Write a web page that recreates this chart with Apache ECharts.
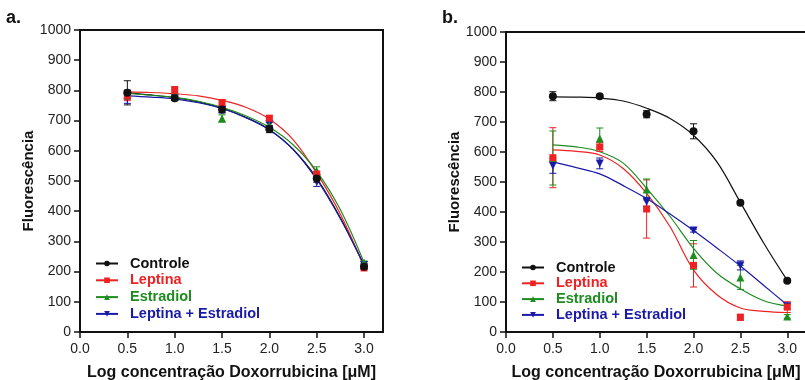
<!DOCTYPE html>
<html>
<head>
<meta charset="utf-8">
<script src="https://cdn.jsdelivr.net/npm/echarts@6/dist/echarts.min.js"></script>
<style>
html,body{margin:0;padding:0;background:#fff;}
#wrap{position:relative;width:805px;height:380px;overflow:hidden;background:#fff;}
#ca{position:absolute;left:0;top:0;width:400px;height:380px;}
#cb{position:absolute;left:400px;top:0;width:405px;height:380px;}
</style>
</head>
<body>
<div id="wrap"><div id="ca"></div><div id="cb"></div></div>
<script>
// ---------- data ----------
const groupNames = ['Controle', 'Leptina', 'Estradiol', 'Leptina + Estradiol'];
const groupColors = ['#111111', '#ee2222', '#1e8c1e', '#1a1aaa'];
const xTicks = [0, 0.5, 1.0, 1.5, 2.0, 2.5, 3.0];
const xPts = [0.5, 1.0, 1.5, 2.0, 2.5, 3.0];
const curveX = [0.5, 0.75, 1.0, 1.25, 1.5, 1.75, 2.0, 2.25, 2.5, 2.75, 3.0];

// panel a : measured points (mean, error)
const aControle = [792, 774, 737, 672, 508, 216];
const aControleErr = [40, 8, 10, 12, 12, 6];
const aLeptina = [781, 801, 760, 708, 523, 212];
const aLeptinaErr = [15, 12, 10, 8, 8, 5];
const aEstradiol = [785, 778, 707, 683, 533, 230];
const aEstradiolErr = [15, 8, 12, 10, 14, 5];
const aLepEst = [779, 773, 735, 688, 497, 222];
const aLepEstErr = [22, 6, 10, 8, 15, 5];
// panel a : fitted curves (read at curveX)
const aControleFit = [792, 785, 776, 762, 741, 711, 670, 605, 509, 378, 220];
const aLeptinaFit = [795, 793, 789, 782, 767, 744, 705, 637, 526, 390, 216];
const aEstradiolFit = [790, 784, 777, 764, 744, 716, 678, 620, 532, 405, 230];
const aLepEstFit = [782, 778, 772, 759, 740, 710, 670, 605, 505, 375, 222];

// panel b : measured points (mean, error)
const bControle = [786, 786, 726, 669, 431, 171];
const bControleErr = [15, 5, 12, 25, 5, 5];
const bLeptina = [581, 617, 410, 222, 49, 83];
const bLeptinaErr = [100, 15, 97, 72, 10, 18];
const bEstradiol = [580, 645, 475, 257, 182, 52];
const bEstradiolErr = [90, 35, 35, 48, 40, 6];
const bLepEst = [554, 562, 434, 338, 222, 86];
const bLepEstErr = [25, 18, 15, 5, 15, 8];
// panel b : fitted curves (read at curveX)
const bControleFit = [784, 783, 780, 770, 746, 712, 656, 567, 432, 296, 172];
const bLeptinaFit = [607, 602, 590, 545, 462, 351, 207, 124, 80, 69, 65];
const bEstradiolFit = [624, 617, 601, 563, 479, 385, 279, 196, 144, 104, 86];
const bLepEstFit = [567, 548, 527, 488, 445, 393, 338, 280, 220, 155, 90];

// ---------- helpers ----------
const FONT = 'Liberation Sans, Arial, Helvetica, sans-serif';
const symbols = ['circle', 'rect', 'triangle', 'triangle'];
const rotates = [0, 0, 0, 180];
const symSizes = [8, 7, 8, 8];

function pairs(xs, ys) { return xs.map((x, i) => [x, ys[i]]); }

function buildOption(cfg) {
  const series = [];
  cfg.fits.forEach((fit, g) => {
    series.push({
      name: groupNames[g], type: 'line', data: pairs(curveX, fit),
      smooth: 0.35, showSymbol: false, symbol: symbols[g], symbolRotate: rotates[g],
      lineStyle: { color: groupColors[g], width: 1.2 }, itemStyle: { color: groupColors[g] },
      z: 2, silent: true, animation: false
    });
  });
  cfg.pts.forEach((pts, g) => {
    const err = cfg.errs[g];
    series.push({
      name: 'err' + g, type: 'custom', z: 3, animation: false, silent: true,
      data: xPts.map((x, i) => [x, pts[i] - err[i], pts[i] + err[i]]),
      renderItem: function (params, api) {
        const x = api.value(0);
        const p1 = api.coord([x, api.value(1)]);
        const p2 = api.coord([x, api.value(2)]);
        const w = 3.5, st = { stroke: groupColors[g], lineWidth: 1 };
        return { type: 'group', children: [
          { type: 'line', shape: { x1: p1[0], y1: p1[1], x2: p2[0], y2: p2[1] }, style: st },
          { type: 'line', shape: { x1: p1[0] - w, y1: p1[1], x2: p1[0] + w, y2: p1[1] }, style: st },
          { type: 'line', shape: { x1: p2[0] - w, y1: p2[1], x2: p2[0] + w, y2: p2[1] }, style: st }
        ]};
      }
    });
  });
  // markers drawn in reverse order so that Controle / Leptina sit on top
  [3, 2, 1, 0].forEach((g) => {
    series.push({
      name: 'pts' + g, type: 'scatter', data: pairs(xPts, cfg.pts[g]),
      symbol: symbols[g], symbolRotate: rotates[g], symbolSize: symSizes[g],
      itemStyle: { color: groupColors[g], opacity: 1 }, z: 4, animation: false, silent: true
    });
  });

  return {
    animation: false,
    backgroundColor: '#fff',
    textStyle: { fontFamily: FONT },
    graphic: [{
      type: 'text', left: cfg.labelX, top: 9,
      style: { text: cfg.label, font: 'bold 18px ' + FONT, fill: '#111' }
    }],
    grid: {
      left: cfg.left, top: cfg.top, width: cfg.width, height: cfg.height,
      outerBoundsMode: 'none', containLabel: false,
      show: true, borderColor: '#111', borderWidth: 2, backgroundColor: 'transparent'
    },
    legend: {
      orient: 'vertical', left: cfg.legLeft, top: cfg.legTop, padding: 0,
      itemWidth: 22, itemHeight: 7, itemGap: cfg.legGap,
      selectedMode: false,
      textStyle: { fontFamily: FONT, fontSize: 14.5, fontWeight: 'bold', lineHeight: 14, padding: [0, 0, 0, 7] },
      data: groupNames.map((n, g) => ({ name: n, textStyle: { color: groupColors[g] } }))
    },
    xAxis: {
      type: 'value', min: 0, max: 3.2,
      name: 'Log concentração Doxorrubicina [μM]', nameLocation: 'middle', nameGap: 33,
      nameMoveOverlap: false,
      nameTextStyle: { fontFamily: FONT, fontSize: 16, fontWeight: 'bold', color: '#111' },
      axisLine: { show: true, onZero: false, lineStyle: { color: '#111', width: 2 } },
      axisTick: { show: true, inside: false, length: 6, lineStyle: { color: '#111', width: 1.5 }, customValues: xTicks },
      axisLabel: { fontFamily: FONT, fontSize: 14, color: '#222', margin: 10, customValues: xTicks,
                   formatter: v => Number(v).toFixed(1) },
      splitLine: { show: false }
    },
    yAxis: {
      type: 'value', min: 0, max: 1000, interval: 100,
      name: 'Fluorescência', nameLocation: 'middle', nameGap: cfg.yNameGap,
      nameMoveOverlap: false,
      nameTextStyle: { fontFamily: FONT, fontSize: 15, fontWeight: 'bold', color: '#111' },
      axisLine: { show: true, onZero: false, lineStyle: { color: '#111', width: 2 } },
      axisTick: { show: true, inside: false, length: 6, lineStyle: { color: '#111', width: 1.5 } },
      axisLabel: { fontFamily: FONT, fontSize: 14, color: '#222', margin: 9, formatter: v => String(v) },
      splitLine: { show: false }
    },
    series: series
  };
}

const chartA = echarts.init(document.getElementById('ca'), null, { renderer: 'canvas' });
chartA.setOption(buildOption({
  label: 'a.', labelX: 6,
  left: 80, top: 30, width: 303, height: 302,
  legLeft: 95, legTop: 256, legGap: 1.8, yNameGap: 44,
  pts: [aControle, aLeptina, aEstradiol, aLepEst],
  errs: [aControleErr, aLeptinaErr, aEstradiolErr, aLepEstErr],
  fits: [aControleFit, aLeptinaFit, aEstradiolFit, aLepEstFit]
}));

const chartB = echarts.init(document.getElementById('cb'), null, { renderer: 'canvas' });
chartB.setOption(buildOption({
  label: 'b.', labelX: 42,
  left: 106, top: 32, width: 300, height: 300,
  legLeft: 121, legTop: 260, legGap: 0.8, yNameGap: 44,
  pts: [bControle, bLeptina, bEstradiol, bLepEst],
  errs: [bControleErr, bLeptinaErr, bEstradiolErr, bLepEstErr],
  fits: [bControleFit, bLeptinaFit, bEstradiolFit, bLepEstFit]
}));
</script>
</body>
</html>
